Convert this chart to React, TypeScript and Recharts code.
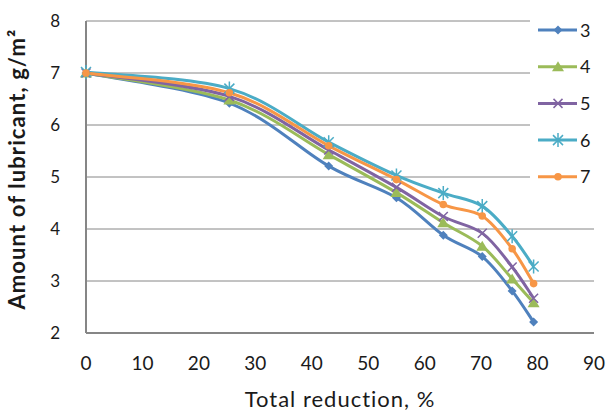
import { CartesianGrid, Line, LineChart, XAxis, YAxis } from 'recharts';

// total reduction, %
const reduction = [0, 25.4, 43, 55, 63.3, 70.2, 75.5, 79.3];

// amount of lubricant, g/m2
const s3 = [7.0, 6.42, 5.21, 4.6, 3.88, 3.47, 2.81, 2.21];
const s4 = [7.0, 6.48, 5.43, 4.7, 4.12, 3.67, 3.04, 2.58];
const s5 = [7.0, 6.55, 5.52, 4.8, 4.24, 3.92, 3.27, 2.67];
const s6 = [7.02, 6.7, 5.67, 5.03, 4.69, 4.44, 3.86, 3.28];
const s7 = [7.0, 6.62, 5.6, 4.95, 4.47, 4.25, 3.62, 2.95];

const xTicks = [0, 10, 20, 30, 40, 50, 60, 70, 80, 90];
const yTicks = [2, 3, 4, 5, 6, 7, 8];

const series = [
  { key: 's3', name: '3', color: '#4F81BD', shape: 'diamond' },
  { key: 's4', name: '4', color: '#9BBB59', shape: 'triangle' },
  { key: 's5', name: '5', color: '#8064A2', shape: 'x' },
  { key: 's6', name: '6', color: '#4BACC6', shape: 'star' },
  { key: 's7', name: '7', color: '#F79646', shape: 'circle' },
];

const data = reduction.map((x, i) => ({
  x,
  s3: s3[i],
  s4: s4[i],
  s5: s5[i],
  s6: s6[i],
  s7: s7[i],
}));

const FONT = 'Lato, sans-serif';
const GRAY = '#868686';
const TEXT = '#1a1a1a';

// Excel-style smoothed line (uniform Catmull-Rom as cubic beziers)
function smoothCurve(context: any) {
  let pts: number[][] = [];
  return {
    areaStart() {},
    areaEnd() {},
    lineStart() {
      pts = [];
    },
    lineEnd() {
      if (!pts.length) return;
      context.moveTo(pts[0][0], pts[0][1]);
      for (let i = 0; i < pts.length - 1; i++) {
        const p0 = pts[i - 1] ?? pts[i];
        const p1 = pts[i];
        const p2 = pts[i + 1];
        const p3 = pts[i + 2] ?? p2;
        context.bezierCurveTo(
          p1[0] + (p2[0] - p0[0]) / 6,
          p1[1] + (p2[1] - p0[1]) / 6,
          p2[0] - (p3[0] - p1[0]) / 6,
          p2[1] - (p3[1] - p1[1]) / 6,
          p2[0],
          p2[1],
        );
      }
    },
    point(x: number, y: number) {
      pts.push([+x, +y]);
    },
  };
}

function Marker({ shape, cx, cy, color }: { shape: string; cx: number; cy: number; color: string }) {
  switch (shape) {
    case 'diamond':
      return <path d={`M${cx},${cy - 4.5}L${cx + 4.5},${cy}L${cx},${cy + 4.5}L${cx - 4.5},${cy}Z`} fill={color} />;
    case 'triangle':
      return <path d={`M${cx},${cy - 5.5}L${cx + 6},${cy + 4.5}L${cx - 6},${cy + 4.5}Z`} fill={color} />;
    case 'x':
      return (
        <path
          d={`M${cx - 4.5},${cy - 4.5}L${cx + 4.5},${cy + 4.5}M${cx - 4.5},${cy + 4.5}L${cx + 4.5},${cy - 4.5}`}
          stroke={color}
          strokeWidth={1.5}
        />
      );
    case 'star':
      return (
        <path
          d={`M${cx - 5},${cy - 5}L${cx + 5},${cy + 5}M${cx - 5},${cy + 5}L${cx + 5},${cy - 5}M${cx},${cy - 7}L${cx},${cy + 7}`}
          stroke={color}
          strokeWidth={1.5}
        />
      );
    default:
      return <circle cx={cx} cy={cy} r={3.8} fill={color} />;
  }
}

function LegendBox() {
  return (
    <svg width={76} height={188} style={{ display: 'block' }}>
      {series.map((s, i) => {
        const y = 18 + i * 36.7;
        return (
          <g key={s.key}>
            <line x1={8} x2={47} y1={y} y2={y} stroke={s.color} strokeWidth={3} />
            <Marker shape={s.shape} cx={28} cy={y} color={s.color} />
            <text x={50} y={y + 6.5} fontSize={18} fontFamily={FONT} fill={TEXT}>
              {s.name}
            </text>
          </g>
        );
      })}
    </svg>
  );
}

export default function App() {
  return (
    <div style={{ position: 'absolute', left: 0, top: 0, width: 606, height: 412, background: '#fff' }}>
      <LineChart width={606} height={412} data={data} margin={{ top: 21, right: 12, left: 0, bottom: 0 }}>
        <CartesianGrid vertical={false} stroke={GRAY} />
        <XAxis
          type="number"
          dataKey="x"
          domain={[0, 90]}
          ticks={xTicks}
          height={79}
          axisLine={{ stroke: GRAY, strokeWidth: 2 }}
          tickLine={false}
          tickMargin={18}
          tick={{ fontSize: 19, fontFamily: FONT, fill: TEXT }}
          label={{
            content: () => (
              <text
                x={340}
                y={407}
                textAnchor="middle"
                fontSize={22}
                letterSpacing={1}
                fontFamily={FONT}
                fill={TEXT}
              >
                Total reduction, %
              </text>
            ),
          }}
        />
        <YAxis
          type="number"
          domain={[2, 8]}
          ticks={yTicks}
          width={86}
          axisLine={{ stroke: GRAY, strokeWidth: 2 }}
          tickLine={false}
          tickMargin={20}
          tick={{ fontSize: 17, fontFamily: FONT, fill: TEXT }}
          label={{
            content: () => (
              <text
                x={25}
                y={169}
                transform="rotate(-90 25 169)"
                textAnchor="middle"
                fontSize={22}
                letterSpacing={1.1}
                fontWeight="bold"
                fontFamily={FONT}
                fill={TEXT}
              >
                Amount of lubricant, g/m²
              </text>
            ),
          }}
        />
        {series.map((s) => (
          <Line
            key={s.key}
            type={smoothCurve as any}
            dataKey={s.key}
            name={s.name}
            stroke={s.color}
            strokeWidth={3}
            isAnimationActive={false}
            dot={(p: any) => (
              <Marker key={`${s.key}-${p.index}`} shape={s.shape} cx={p.cx} cy={p.cy} color={s.color} />
            )}
            activeDot={false}
          />
        ))}
      </LineChart>
      <div style={{ position: 'absolute', left: 530, top: 12, width: 76, height: 188, background: '#fff' }}>
        <LegendBox />
      </div>
    </div>
  );
}
